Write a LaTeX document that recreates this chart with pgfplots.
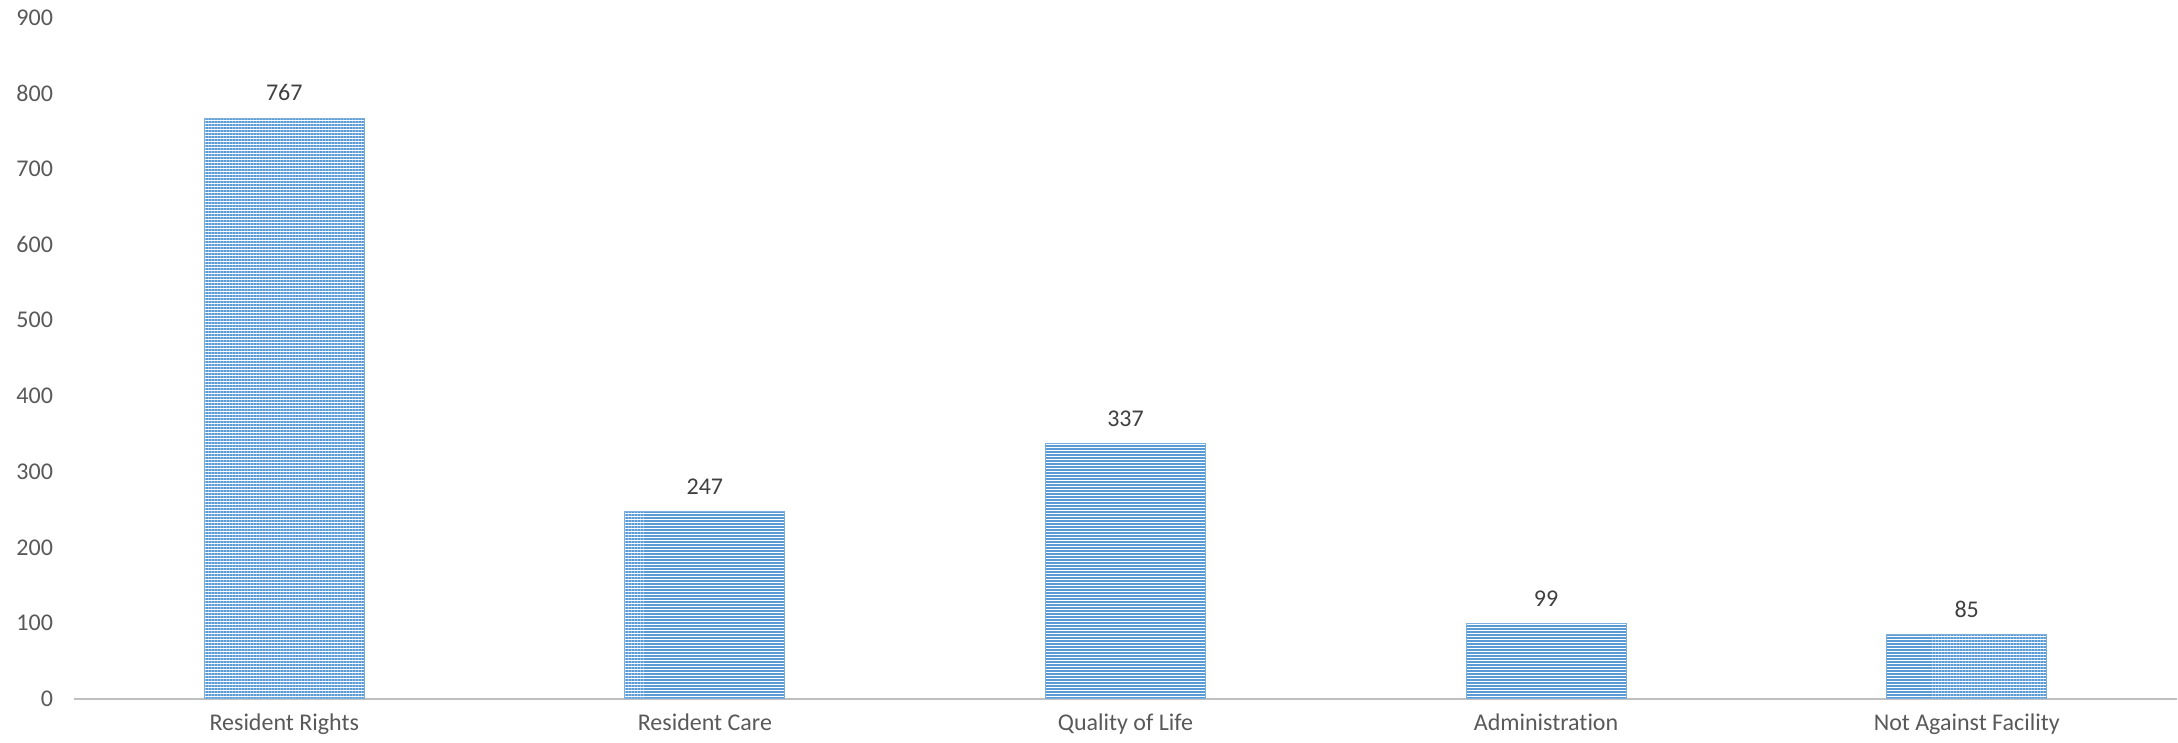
\documentclass[border=0pt]{standalone}
\usepackage{pgfplots}
\pgfplotsset{compat=1.18}
\usepackage{fontspec}
\setmainfont[Ligatures=NoCommon]{Carlito}
\usetikzlibrary{patterns.meta}

\definecolor{barblue}{HTML}{5B9BD5}
\definecolor{axisgray}{HTML}{BFBFBF}
\definecolor{ticktext}{HTML}{595959}
\definecolor{valtext}{HTML}{404040}

\begin{document}
\begin{tikzpicture}
\begin{axis}[
  scale only axis,
  width=1052pt, height=340.75pt,
  xmin=-0.5, xmax=4.5,
  ymin=0, ymax=900,
  ytick={0,100,...,900},
  xtick=data,
  xticklabels={Resident Rights, Resident Care, Quality of Life, Administration, Not Against Facility},
  axis x line*=bottom,
  axis y line*=left,
  x axis line style={draw=axisgray, line width=1pt, -},
  y axis line style={draw=none},
  major tick length=0pt,
  tick style={draw=none},
  /pgf/number format/assume math mode=true,
  ticklabel style={font=\fontsize{12}{14}\selectfont, text=ticktext},
  yticklabel style={xshift=-7pt},
  xticklabel style={yshift=-4pt},
  clip=false,
  nodes near coords,
  nodes near coords style={font=\fontsize{12}{14}\selectfont, text=valtext, yshift=5pt},
]
\addplot[ybar, bar width=80pt, draw=barblue!80, line width=0.5pt,
  pattern={Lines[angle=0,distance=1.5pt,line width=1pt]}, pattern color=barblue]
  coordinates {(0,767) (1,247) (2,337) (3,99) (4,85)};
\end{axis}
\path ([shift={(-37pt,-22pt)}]current axis.south west) rectangle ([shift={(0pt,8.75pt)}]current axis.north east);
\end{tikzpicture}
\end{document}
